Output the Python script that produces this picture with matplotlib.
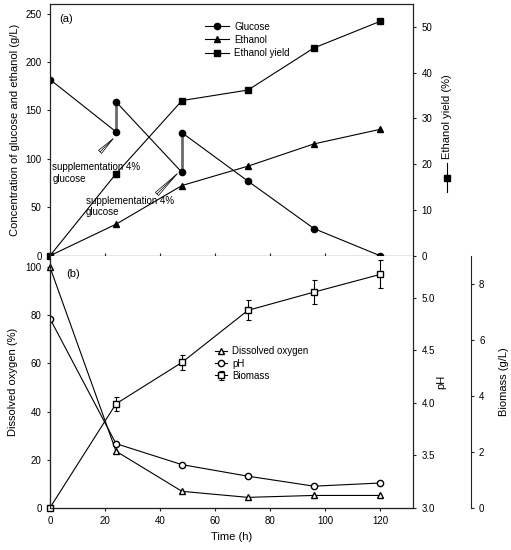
import matplotlib
matplotlib.use("Agg")
import matplotlib.pyplot as plt
import numpy as np

plt.rcParams['font.family'] = ['Liberation Sans', 'DejaVu Sans']
plt.rcParams['font.size'] = 7

# (a) fermentation
time = [0, 24, 48, 72, 96, 120]
glucose_t = [0, 24, 24, 48, 48, 72, 96, 120]
glucose = [182, 128, 159, 86, 127, 77, 28, 0]
ethanol = [0, 32.5, 72.5, 92.5, 115.5, 130.5]
ethanol_yield = [0, 17.9, 33.9, 36.2, 45.4, 51.2]

# (b) dissolved oxygen, pH, biomass
dissolved_oxygen = [100, 23.5, 6.8, 4.3, 5.1, 5.1]
ph = [4.80, 3.61, 3.41, 3.30, 3.205, 3.235]
biomass = [0, 3.71, 5.19, 7.05, 7.70, 8.33]
biomass_err = [0, 0.25, 0.27, 0.36, 0.43, 0.5]

LW = 0.8
SP = '#222222'

fig = plt.figure(figsize=(5.11, 5.5), dpi=100)
W, H = 511, 550


def fig_rect(x0, y0, x1, y1):
    return [x0 / W, 1 - y1 / H, (x1 - x0) / W, (y1 - y0) / H]


ax1 = fig.add_axes(fig_rect(50, 4, 413, 255.7))
ax1r = ax1.twinx()
ax2 = fig.add_axes(fig_rect(50, 255.7, 413, 507.7))
ax2p = ax2.twinx()
ax2b = ax2.twinx()

for a in (ax1, ax1r, ax2, ax2p, ax2b):
    for s in a.spines.values():
        s.set_linewidth(LW)
        s.set_color(SP)
    a.tick_params(width=LW, length=2.5, labelsize=7, colors=SP, labelcolor='black')

# ---- panel (a)
# glucose: thin black for consumption, thick grey for the feeding jumps
for i in range(1, len(glucose_t)):
    seg_t = glucose_t[i - 1:i + 1]
    seg_g = glucose[i - 1:i + 1]
    if seg_t[0] == seg_t[1]:
        ax1.plot(seg_t, seg_g, '-', color='#6a6a6a', lw=2, zorder=1)
    else:
        ax1.plot(seg_t, seg_g, '-', color='black', lw=LW, zorder=2)
ax1.plot(glucose_t, glucose, 'o', color='black', ms=4.5, zorder=3)
ax1.plot([], [], '-', color='black', lw=LW, marker='o', ms=4.5, label='Glucose')
ax1.plot(time, ethanol, '-', color='black', lw=LW, marker='^', ms=4.5, label='Ethanol')
ax1r.plot(time, ethanol_yield, '-', color='black', lw=LW, marker='s', ms=4.2, label='Ethanol yield',
          clip_on=False)

ax1.set_xlim(0, 132)
ax1.set_ylim(0, 260)
ax1r.set_ylim(0, 55)
ax1.set_xticks(range(0, 121, 20))
ax1.tick_params(axis='x', direction='in', labelbottom=False)
ax1.set_yticks(range(0, 251, 50))
ax1r.set_yticks(range(0, 51, 10))

ax1.set_ylabel('Concentration of glucose and ethanol (g/L)', fontsize=8)
ax1.yaxis.label.set_verticalalignment('center')
ax1.yaxis.set_label_coords(-0.097, 0.5)
ax1r.set_ylabel('Ethanol yield (%)', fontsize=8)
ax1r.yaxis.label.set_verticalalignment('center')
ax1r.yaxis.set_label_coords(1.094, 0.553)
ax1r.plot([1.094, 1.094], [0.253, 0.368], transform=ax1r.transAxes, color='black', lw=LW, clip_on=False)
ax1r.plot([1.094], [0.31], transform=ax1r.transAxes, color='black', marker='s', ms=4.2, clip_on=False)

ax1.text(3.3, 245, '(a)', fontsize=8, ha='left', va='center')

h1, l1 = ax1.get_legend_handles_labels()
h2, l2 = ax1r.get_legend_handles_labels()
ax1.legend(h1 + h2, l1 + l2, loc='upper left', bbox_to_anchor=(205 / W, 1 - 21.5 / H),
           bbox_transform=fig.transFigure, frameon=False, fontsize=7, numpoints=1,
           handlelength=2.5, handletextpad=0.5, labelspacing=0.33, borderpad=0, borderaxespad=0)

wedge = dict(arrowstyle='wedge,tail_width=0.45,shrink_factor=0.5', fc='none', ec='black',
             lw=0.5, shrinkA=0, shrinkB=0)
shaft = dict(arrowstyle='-', color='black', lw=0.5, shrinkA=0, shrinkB=0)
for head, tail in [((22.9, 120.7), (18.2, 107.3)), ((46.2, 84.5), (38.9, 63.8))]:
    ax1.annotate('', xy=head, xytext=tail, arrowprops=wedge)
    ax1.annotate('', xy=head, xytext=tail, arrowprops=shaft)
ax1.text(0.8, 85.7, 'supplementation 4%\nglucose', fontsize=7, ha='left', va='center')
ax1.text(13, 50.7, 'supplementation 4%\nglucose', fontsize=7, ha='left', va='center')

# ---- panel (b)
ax2.plot(time, dissolved_oxygen, '-', color='black', lw=LW, marker='^', ms=4.5, mfc='white',
         label='Dissolved oxygen', clip_on=False, zorder=3)
ax2p.plot(time, ph, '-', color='black', lw=LW, marker='o', ms=4.5, mfc='white', label='pH')
ax2b.errorbar(time, biomass, yerr=biomass_err, fmt='-', color='black', lw=LW, marker='s', ms=4.2,
              mfc='white', capsize=1.8, elinewidth=LW, capthick=LW, label='Biomass', clip_on=False)

ax2.set_xlim(0, 132)
ax2.set_ylim(0, 104.8)
ax2p.set_ylim(3.0, 5.4)
ax2b.set_ylim(0, 9)
ax2.set_xticks(range(0, 121, 20))
ax2.set_yticks(range(0, 101, 20))
ax2p.set_yticks([3.0, 3.5, 4.0, 4.5, 5.0])
ax2p.set_yticklabels(['3.0', '3.5', '4.0', '4.5', '5.0'])
ax2b.set_yticks(range(0, 9, 2))
for a in (ax2, ax2p, ax2b):
    a.spines['top'].set_visible(False)
ax2b.spines['right'].set_position(('axes', 1.159))

ax2.set_xlabel('Time (h)', fontsize=8)
ax2.set_ylabel('Dissolved oxygen (%)', fontsize=8)
ax2.yaxis.label.set_verticalalignment('center')
ax2.yaxis.set_label_coords(-0.102, 0.5)
ax2p.set_ylabel('pH', fontsize=8)
ax2p.yaxis.label.set_verticalalignment('center')
ax2p.yaxis.set_label_coords(1.077, 0.5)
ax2b.set_ylabel('Biomass (g/L)', fontsize=8)
ax2b.yaxis.label.set_verticalalignment('center')
ax2b.yaxis.set_label_coords(1.25, 0.5)

ax2.text(5.8, 97.2, '(b)', fontsize=8, ha='left', va='center')

h1, l1 = ax2.get_legend_handles_labels()
h2, l2 = ax2p.get_legend_handles_labels()
h3, l3 = ax2b.get_legend_handles_labels()
ax2b.legend(h1 + h2 + h3, l1 + l2 + l3, loc='upper left', bbox_to_anchor=(215 / W, 1 - 346.5 / H),
            bbox_transform=fig.transFigure, frameon=False, fontsize=7, numpoints=1,
            handlelength=1.25, handletextpad=0.5, labelspacing=0.22, borderpad=0, borderaxespad=0)

fig.savefig('out.png', dpi=100)
